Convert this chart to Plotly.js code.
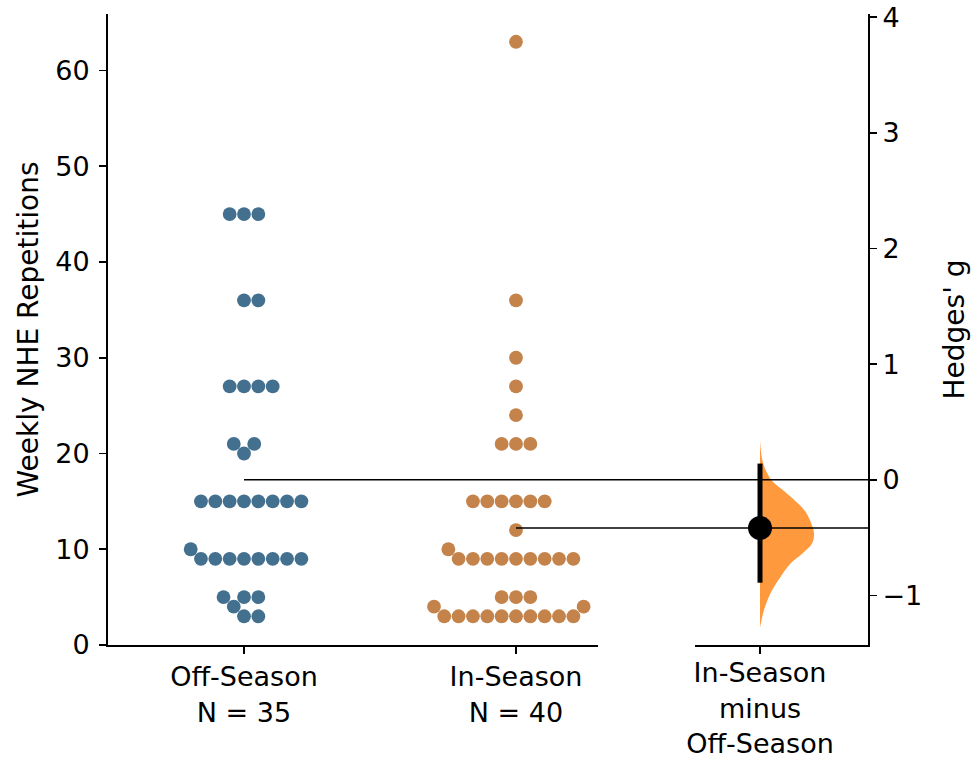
<!DOCTYPE html>
<html>
<head>
<meta charset="utf-8">
<script src="https://cdn.plot.ly/plotly-3.0.1.min.js"></script>
<style>html,body{margin:0;padding:0;background:#fff;}#chart{width:973px;height:761px;}</style>
</head>
<body>
<div id="chart"></div>
<script>
// ---------------- data ----------------
const groupNames = ["Off-Season", "In-Season"];
const offSeason = [45,45,45,36,36,27,27,27,27,21,21,20,15,15,15,15,15,15,15,15,10,9,9,9,9,9,9,9,9,5,5,5,4,3,3];
const inSeason  = [63,36,30,27,24,21,21,21,15,15,15,15,15,15,12,10,9,9,9,9,9,9,9,9,9,5,5,5,4,4,3,3,3,3,3,3,3,3,3,3];
const yTickVals = [0,10,20,30,40,50,60];
const gTickVals = [-1,0,1,2,3,4];
// bootstrap distribution of Hedges' g (read from the half-violin)
const distG       = [0.337, 0.138, -0.009, -0.069, -0.156, -0.268, -0.355, -0.467, -0.554, -0.640, -0.727, -0.848, -0.986, -1.133, -1.280];
const distDensity = [0, 0.06, 0.22, 0.37, 0.59, 0.83, 0.93, 1.0, 0.96, 0.78, 0.56, 0.37, 0.19, 0.07, 0];
const ciLow = -0.89, ciHigh = 0.14;

// ---------------- styles / layout constants ----------------
const W = 973, H = 761;
const M = {l:108, r:105, t:14, b:116};
const plotW = W - M.l - M.r, plotH = H - M.t - M.b;
const X1_DOMAIN = [0, 490/plotW], X2_DOMAIN = [587/plotW, 1];
const X_RANGE = [-0.5, 1.3015], X2_RANGE = [-0.239, 0.397];
const Y_RANGE = [0, 65.9];
const colOff = 'rgb(68,112,143)', colIn = 'rgb(195,131,74)';
const violinCol = 'rgba(255,127,14,0.8)';
const FAM = 'DejaVu Sans, sans-serif';
const XTICK_FONT = {family: FAM, size: 27, color: '#000'};
const YTICK_FONT = {family: FAM, size: 27, color: '#000'};
const TITLE_FONT = {family: FAM, size: 28, color: '#000'};
const DOT = 13.8;               // marker diameter px
const SPACING = 14.35;          // swarm spacing px
const VIOLIN_PX = 54;           // half-violin max width px

const yPx = plotH / (Y_RANGE[1]-Y_RANGE[0]);
const xPx = (X1_DOMAIN[1]-X1_DOMAIN[0])*plotW/(X_RANGE[1]-X_RANGE[0]);
const x2Px = (X2_DOMAIN[1]-X2_DOMAIN[0])*plotW/(X2_RANGE[1]-X2_RANGE[0]);

// ---------------- swarm layout (seaborn-like) ----------------
function swarmOffsets(values, tieRight) {
  const d = SPACING/1.05;
  const order = values.map((v,i)=>i).sort((a,b)=>values[a]-values[b]);
  const placed = [], out = new Array(values.length);
  for (const i of order) {
    const y = values[i]*yPx;
    const nb = placed.filter(p => Math.abs(p.y-y) < d);
    const cands = [0];
    nb.forEach(p => {
      const dy = y - p.y;
      const dx = Math.sqrt(Math.max(d*d - dy*dy, 0))*1.05;
      cands.push(p.x - dx, p.x + dx);
    });
    const valid = cands.filter(c => nb.every(p => (c-p.x)**2 + (y-p.y)**2 >= d*d - 1e-6));
    valid.sort((a,b) => {
      const da = Math.abs(a), db = Math.abs(b);
      if (Math.abs(da-db) > 1e-6) return da-db;
      return tieRight ? b-a : a-b;
    });
    out[i] = valid[0];
    placed.push({x: valid[0], y});
  }
  return out.map(px => px/xPx);
}

const mean = a => a.reduce((s,v)=>s+v,0)/a.length;
const ss = a => { const m = mean(a); return a.reduce((s,v)=>s+(v-m)**2,0); };
const mC = mean(offSeason), mT = mean(inSeason);
const n1 = offSeason.length, n2 = inSeason.length;
const sp = Math.sqrt((ss(offSeason)+ss(inSeason))/(n1+n2-2));
const hedgesG = (mT-mC)/sp*(1 - 3/(4*(n1+n2-2)-1));
const k = hedgesG/(mT-mC);
const Y2_RANGE = [(Y_RANGE[0]-mC)*k, (Y_RANGE[1]-mC)*k];

const offX = swarmOffsets(offSeason, true).map(v => 0 + v);
const inX = swarmOffsets(inSeason, false).map(v => 1 + v);

const traces = [
  {type:'scatter', mode:'markers', x: offX, y: offSeason, xaxis:'x', yaxis:'y',
   marker:{color: colOff, size: DOT, line:{width:0}}, hoverinfo:'y', showlegend:false},
  {type:'scatter', mode:'markers', x: inX, y: inSeason, xaxis:'x', yaxis:'y',
   marker:{color: colIn, size: DOT, line:{width:0}}, hoverinfo:'y', showlegend:false},
  {type:'scatter', mode:'lines', x: distDensity.map(v => v*VIOLIN_PX/x2Px), y: distG, xaxis:'x2', yaxis:'y2',
   fill:'toself', fillcolor: violinCol, line:{width:0, color: violinCol, shape:'spline'}, hoverinfo:'skip', showlegend:false},
  {type:'scatter', mode:'lines', x:[0,0], y:[ciLow, ciHigh], xaxis:'x2', yaxis:'y2',
   line:{color:'#000', width:5}, hoverinfo:'skip', showlegend:false},
  {type:'scatter', mode:'markers', x:[0], y:[hedgesG], xaxis:'x2', yaxis:'y2',
   marker:{color:'#000', size:24}, showlegend:false}
];

const paperX = xv => X1_DOMAIN[0] + (xv - X_RANGE[0])/(X_RANGE[1]-X_RANGE[0])*(X1_DOMAIN[1]-X1_DOMAIN[0]);

const axisCommon = {showline:true, linecolor:'#000', linewidth:2, ticks:'outside', ticklen:7, tickwidth:1.8,
  tickcolor:'#000', showgrid:false, zeroline:false, fixedrange:true};

const layout = {
  width: W, height: H, margin: M, paper_bgcolor:'#fff', plot_bgcolor:'#fff',
  font: {family: FAM, color:'#000'}, showlegend:false,
  xaxis: Object.assign({}, axisCommon, {domain: X1_DOMAIN, range: X_RANGE, anchor:'y',
    tickmode:'array', tickvals:[0,1], tickfont: XTICK_FONT,
    ticktext:[groupNames[0]+'<br>N = '+n1, groupNames[1]+'<br>N = '+n2]}),
  yaxis: Object.assign({}, axisCommon, {domain:[0,1], range: Y_RANGE, anchor:'x',
    tickmode:'array', tickvals: yTickVals, tickfont: YTICK_FONT, ticklabelstandoff: 4,
    title:{text:'Weekly NHE Repetitions', font: TITLE_FONT, standoff: 8}}),
  xaxis2: Object.assign({}, axisCommon, {domain: X2_DOMAIN, range: X2_RANGE, anchor:'y2',
    tickmode:'array', tickvals:[0], tickfont: XTICK_FONT, ticklabelstandoff: -4,
    ticktext:[groupNames[1]+'<br>minus<br>'+groupNames[0]]}),
  yaxis2: Object.assign({}, axisCommon, {domain:[0,1], range: Y2_RANGE, anchor:'x2', side:'right',
    tickmode:'array', tickvals: gTickVals, tickfont: YTICK_FONT, ticklabelstandoff: 0,
    title:{text:"Hedges' g", font: TITLE_FONT, standoff: 23}}),
  shapes: [
    {type:'line', xref:'paper', yref:'y', x0: paperX(0), x1: 1, y0: mC, y1: mC, line:{color:'#000', width:1.6}, layer:'above'},
    {type:'line', xref:'paper', yref:'y', x0: paperX(1), x1: 1, y0: mT, y1: mT, line:{color:'#000', width:1.6}, layer:'above'}
  ]
};

Plotly.newPlot('chart', traces, layout, {displayModeBar:false, staticPlot:true});
</script>
</body>
</html>
